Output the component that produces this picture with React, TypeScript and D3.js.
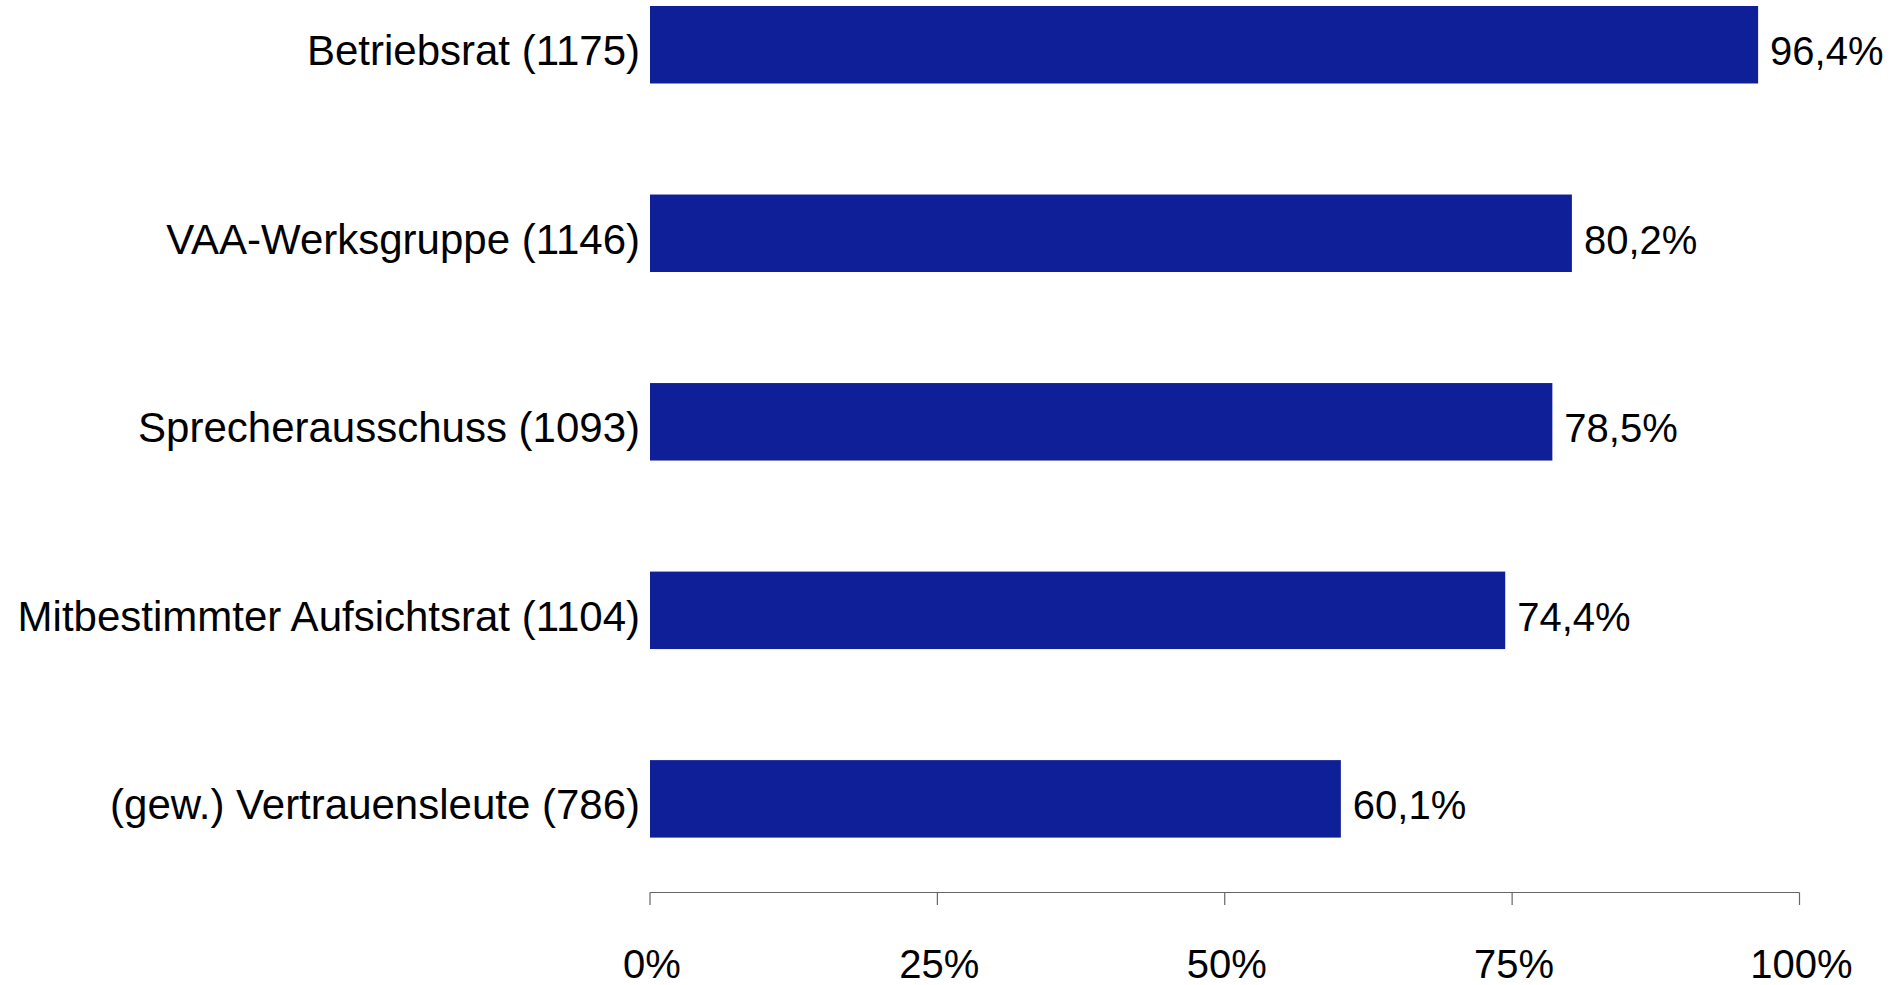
import React from "react";
import * as d3 from "d3";

const categories = [
  "Betriebsrat (1175)",
  "VAA-Werksgruppe (1146)",
  "Sprecherausschuss (1093)",
  "Mitbestimmter Aufsichtsrat (1104)",
  "(gew.) Vertrauensleute (786)",
];
const values = [96.4, 80.2, 78.5, 74.4, 60.1];
const valueLabels = ["96,4%", "80,2%", "78,5%", "74,4%", "60,1%"];
const ticks = [0, 25, 50, 75, 100];
const tickLabels = ["0%", "25%", "50%", "75%", "100%"];

const W = 1897;
const H = 985;
const FONT = "Liberation Sans, Arial, Helvetica, sans-serif";
const BAR_COLOR = "#0f1f97";

export default function App() {
  const x = d3.scaleLinear().domain([0, 100]).range([650, 1799.5]);
  const y = d3
    .scaleBand<string>()
    .domain(categories)
    .range([6, 837.6])
    .paddingInner(0.589)
    .paddingOuter(0);
  const bw = y.bandwidth();
  const axisY = 892.5;

  return (
    <svg
      width={W}
      height={H}
      style={{ position: "absolute", left: 0, top: 0, background: "#fff" }}
      fontFamily={FONT}
    >
      <rect x={0} y={0} width={W} height={H} fill="#fff" />
      {categories.map((c, i) => {
        const y0 = y(c)!;
        const cy = y0 + bw / 2;
        return (
          <g key={c}>
            <rect
              x={x(0)}
              y={y0}
              width={x(values[i]) - x(0)}
              height={bw}
              fill={BAR_COLOR}
            />
            <text
              x={640}
              y={cy + 20.5}
              fontSize={42}
              textAnchor="end"
              fill="#000"
            >
              {c}
            </text>
            <text
              x={x(values[i]) + 12}
              y={cy + 20.5}
              fontSize={40}
              textAnchor="start"
              fill="#000"
            >
              {valueLabels[i]}
            </text>
          </g>
        );
      })}
      <line
        x1={x(0)}
        x2={x(100)}
        y1={axisY}
        y2={axisY}
        stroke="#666"
        strokeWidth={1.2}
      />
      {ticks.map((t, i) => (
        <g key={t}>
          <line
            x1={x(t)}
            x2={x(t)}
            y1={axisY}
            y2={905}
            stroke="#666"
            strokeWidth={1.2}
          />
          <text
            x={x(t) + 2}
            y={978}
            fontSize={40}
            textAnchor="middle"
            fill="#000"
          >
            {tickLabels[i]}
          </text>
        </g>
      ))}
    </svg>
  );
}
